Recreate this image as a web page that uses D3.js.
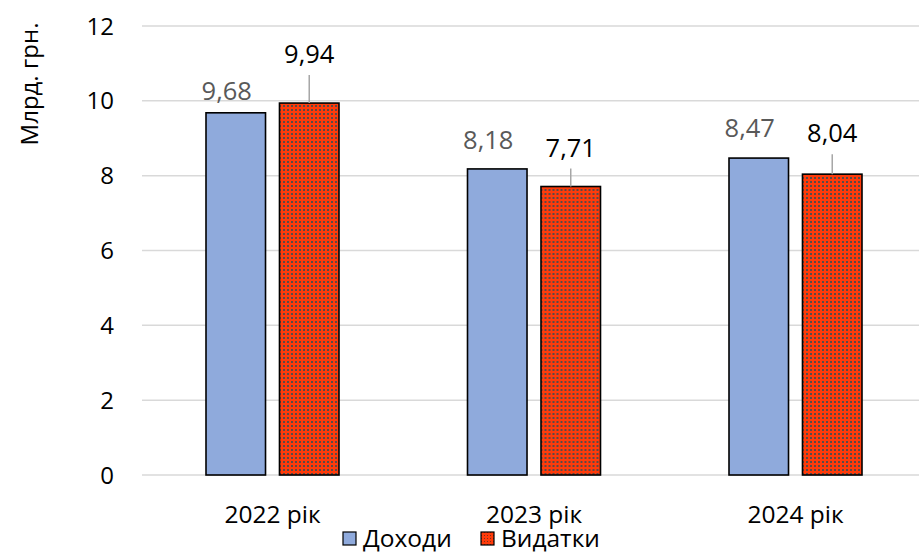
<!DOCTYPE html>
<html>
<head>
<meta charset="utf-8">
<script src="https://cdn.jsdelivr.net/npm/d3@7"></script>
<style>
  html, body { margin: 0; padding: 0; background: #fff; }
  svg { display: block; font-family: "Open Sans", "Noto Sans", sans-serif; }
</style>
</head>
<body>
<svg id="chart" width="919" height="554"></svg>
<script>
// Budget income vs. expenditure, bn UAH
const categories = ["2022 рік", "2023 рік", "2024 рік"];
const seriesNames = ["Доходи", "Видатки"];
const incomeValues = [9.68, 8.18, 8.47];
const expenseValues = [9.94, 7.71, 8.04];
const yTicks = [0, 2, 4, 6, 8, 10, 12];
const yTitle = "Млрд. грн.";

// label placement (px above bar top)
const incomeLabelLift = [13, 20, 21];
const expenseLabelLift = [40, 30, 32];

const series = [
  { name: seriesNames[0], values: incomeValues, lift: incomeLabelLift },
  { name: seriesNames[1], values: expenseValues, lift: expenseLabelLift }
];

const svg = d3.select("#chart");
const W = 919, H = 554;
const plot = { left: 142, right: 926.5, top: 26, bottom: 475 };

// dotted fill for the expenditure bars
const defs = svg.append("defs");
const pat = defs.append("pattern")
  .attr("id", "dots").attr("patternUnits", "userSpaceOnUse")
  .attr("width", 4).attr("height", 4);
pat.append("rect").attr("width", 4).attr("height", 4).attr("fill", "#ff3b0a");
pat.append("rect").attr("x", 1).attr("y", 1).attr("width", 2).attr("height", 2).attr("fill", "#5a4a48");

const legendPat = defs.append("pattern")
  .attr("id", "dotsSmall").attr("patternUnits", "userSpaceOnUse")
  .attr("width", 3).attr("height", 3);
legendPat.append("rect").attr("width", 3).attr("height", 3).attr("fill", "#ff3b0a");
legendPat.append("rect").attr("x", 1).attr("y", 1).attr("width", 1).attr("height", 1).attr("fill", "#7a3020");

const fills = ["#8faadc", "url(#dots)"];
const labelColors = ["#595959", "#000000"];

const y = d3.scaleLinear().domain([0, 12]).range([plot.bottom, plot.top]);
const x0 = d3.scaleBand().domain(categories).range([plot.left, plot.right]).paddingInner(0).paddingOuter(0);
const groupInset = 64, groupWidth = 133;
const x1 = d3.scaleBand().domain(seriesNames).range([groupInset, groupInset + groupWidth]).paddingInner(0.19);

// gridlines
svg.append("g").selectAll("line").data(yTicks).join("line")
  .attr("x1", plot.left).attr("x2", W)
  .attr("y1", d => y(d)).attr("y2", d => y(d))
  .attr("stroke", "#d9d9d9").attr("stroke-width", 1.5);

// y tick labels
svg.append("g").selectAll("text").data(yTicks).join("text")
  .attr("x", 114).attr("y", d => y(d))
  .attr("dy", "0.36em")
  .attr("text-anchor", "end")
  .attr("font-size", 24)
  .attr("fill", "#000")
  .text(d => d);

// y axis title
svg.append("text")
  .attr("transform", `translate(38, 84) rotate(-90)`)
  .attr("text-anchor", "middle")
  .attr("font-size", 24)
  .attr("fill", "#000")
  .text(yTitle);

// bars
const groups = svg.append("g").selectAll("g").data(categories).join("g")
  .attr("transform", d => `translate(${x0(d)},0)`);

series.forEach((s, si) => {
  groups.append("rect")
    .attr("x", x1(s.name))
    .attr("width", x1.bandwidth())
    .attr("y", (d, i) => y(s.values[i]))
    .attr("height", (d, i) => y(0) - y(s.values[i]))
    .attr("fill", fills[si])
    .attr("stroke", "#000")
    .attr("stroke-width", 1.6);
});

// value labels
series.forEach((s, si) => {
  const cx = x1(s.name) + x1.bandwidth() / 2;
  groups.append("text")
    .attr("x", cx + (si === 0 ? -9 : 0))
    .attr("y", (d, i) => y(s.values[i]) - s.lift[i])
    .attr("text-anchor", "middle")
    .attr("font-size", 25.5)
    .attr("fill", labelColors[si])
    .text((d, i) => s.values[i].toFixed(2).replace(".", ","));
  if (si === 1) {
    groups.append("line")
      .attr("x1", cx).attr("x2", cx)
      .attr("y1", (d, i) => y(s.values[i]) - s.lift[i] + 12)
      .attr("y2", (d, i) => y(s.values[i]))
      .attr("stroke", "#a6a6a6").attr("stroke-width", 1.5);
  }
});

// category labels
svg.append("g").selectAll("text").data(categories).join("text")
  .attr("x", d => x0(d) + groupInset + groupWidth / 2)
  .attr("y", 523)
  .attr("text-anchor", "middle")
  .attr("font-size", 24.5)
  .attr("fill", "#000")
  .text(d => d);

// legend
const legend = svg.append("g");
const legendItems = [
  { name: seriesNames[0], fill: "#8faadc", x: 343 },
  { name: seriesNames[1], fill: "url(#dotsSmall)", x: 481 }
];
legendItems.forEach(item => {
  legend.append("rect")
    .attr("x", item.x).attr("y", 532).attr("width", 13).attr("height", 13)
    .attr("fill", item.fill).attr("stroke", "#000").attr("stroke-width", 1.2);
  legend.append("text")
    .attr("x", item.x + 20).attr("y", 547)
    .attr("font-size", 24.5)
    .attr("fill", "#000")
    .text(item.name);
});
</script>
</body>
</html>
